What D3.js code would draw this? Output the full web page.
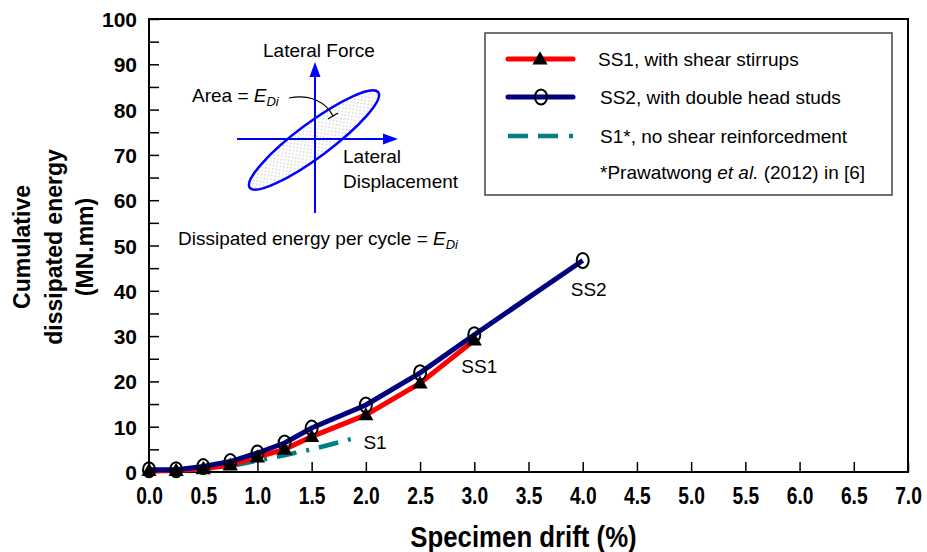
<!DOCTYPE html>
<html><head><meta charset="utf-8">
<script src="https://cdn.jsdelivr.net/npm/d3@7/dist/d3.min.js"></script>
<style>
body{margin:0;background:#fff;}
svg{display:block;}
text{font-family:"Liberation Sans",Arial,sans-serif;}
.narrow{font-family:"Liberation Sans",Arial,sans-serif;font-weight:bold;}
</style>
</head><body>
<svg id="chart" width="927" height="552"></svg>
<script>
// ---- data ----
const ss1Drift = [0.0, 0.25, 0.5, 0.75, 1.0, 1.25, 1.5, 2.0, 2.5, 3.0];
const ss1Energy = [0.3, 0.3, 0.7, 1.5, 3.3, 5.0, 7.8, 12.6, 19.6, 29.1];
const ss2Drift = [0.0, 0.25, 0.5, 0.75, 1.0, 1.25, 1.5, 2.0, 2.5, 3.0, 4.0];
const ss2Energy = [0.5, 0.5, 1.2, 2.3, 4.2, 6.4, 9.7, 14.8, 21.9, 30.3, 46.7];
const s1Drift = [0.0, 0.25, 0.5, 0.75, 1.0, 1.25, 1.5, 1.95];
const s1Energy = [0.2, 0.3, 0.6, 1.3, 2.5, 3.7, 5.0, 7.8];
const xTicks = [0,0.5,1,1.5,2,2.5,3,3.5,4,4.5,5,5.5,6,6.5,7];
const yTicks = [0,10,20,30,40,50,60,70,80,90,100];
const yMinorTicks = [0,5,10,15,20,25,30,35,40,45,50,55,60,65,70,75,80,85,90,95,100];
const legendLabels = ["SS1, with shear stirrups", "SS2, with double head studs", "S1*, no shear reinforcedment"];

const svg = d3.select("#chart");
const L = 149, R = 908, T = 19, B = 472;
const x = d3.scaleLinear().domain([0, 7]).range([L, R]);
const y = d3.scaleLinear().domain([0, 100]).range([B, T]);

// defs: dotted pattern
const defs = svg.append("defs");
const pat = defs.append("pattern").attr("id","dots").attr("patternUnits","userSpaceOnUse")
  .attr("width",5).attr("height",5);
pat.append("circle").attr("cx",1.2).attr("cy",1.2).attr("r",0.6).attr("fill","#aaa");
pat.append("circle").attr("cx",3.7).attr("cy",3.7).attr("r",0.6).attr("fill","#aaa");

// axes
const xAxis = d3.axisBottom(x).tickValues(xTicks).tickSizeInner(-10).tickSizeOuter(0).tickFormat(d3.format(".1f"));
const gx = svg.append("g").attr("transform",`translate(0,${B})`).call(xAxis);
gx.select(".domain").remove();
gx.selectAll(".tick line").attr("stroke","#000").attr("stroke-width",1.5);
gx.selectAll(".tick text").attr("class","narrow").attr("font-size",24).attr("fill","#000")
  .attr("dy",0).attr("y",32).attr("transform","scale(0.8,1)");

const yAxis = d3.axisLeft(y).tickValues(yMinorTicks).tickSizeInner(-10).tickSizeOuter(0)
  .tickFormat(d => yTicks.includes(d) ? d : "");
const gy = svg.append("g").attr("transform",`translate(${L},0)`).call(yAxis);
gy.select(".domain").remove();
gy.selectAll(".tick line").attr("stroke","#000").attr("stroke-width",1.5);
gy.selectAll(".tick text").attr("font-size",21).attr("font-weight","bold").attr("fill","#000")
  .attr("x",-12).attr("dy","0.36em").style("font-family","'Liberation Sans',Arial,sans-serif");

// frame
svg.append("rect").attr("x",L).attr("y",T).attr("width",R-L).attr("height",B-T)
  .attr("fill","none").attr("stroke","#000").attr("stroke-width",2);

// axis titles
svg.append("text").attr("class","narrow").attr("transform",`translate(${(L+R)/2 - 5},547) scale(0.86,1)`)
  .attr("text-anchor","middle").attr("font-size",30).text("Specimen drift (%)");
const yt = svg.append("text").attr("transform","translate(0,247) rotate(-90)").attr("text-anchor","middle")
  .attr("font-size",23).attr("font-weight","bold");
yt.append("tspan").attr("x",0).attr("y",30).text("Cumulative");
yt.append("tspan").attr("x",0).attr("y",62).text("dissipated energy");
yt.append("tspan").attr("x",0).attr("y",93).text("(MN.mm)");

// series lines
const line = d3.line().x(d => x(d[0])).y(d => y(d[1]));
const ss1 = ss1Drift.map((d,i)=>[d, ss1Energy[i]]);
const ss2 = ss2Drift.map((d,i)=>[d, ss2Energy[i]]);
const s1 = s1Drift.map((d,i)=>[d, s1Energy[i]]);

svg.append("path").datum(s1).attr("d",line).attr("fill","none").attr("stroke","#008080")
  .attr("stroke-width",4.5).attr("stroke-dasharray","20,10,3,10").attr("stroke-linecap","butt");
svg.append("path").datum(ss1).attr("d",line).attr("fill","none").attr("stroke","#ff0000").attr("stroke-width",5);
svg.append("path").datum(ss2).attr("d",line).attr("fill","none").attr("stroke","#000080").attr("stroke-width",5);

// markers
const tri = d3.symbol().type(d3.symbolTriangle).size(100);
svg.selectAll(".m1").data(ss1).join("path").attr("class","m1")
  .attr("transform",d=>`translate(${x(d[0])},${y(d[1])+1})`).attr("d",tri).attr("fill","#000");
svg.selectAll(".m2").data(ss2).join("ellipse").attr("class","m2")
  .attr("cx",d=>x(d[0])).attr("cy",d=>y(d[1])).attr("rx",6).attr("ry",7.5)
  .attr("fill","none").attr("stroke","#000").attr("stroke-width",2);

// end labels
svg.append("text").attr("x",x(4.0)-12).attr("y",y(46.7)+36).attr("font-size",19).text("SS2");
svg.append("text").attr("x",x(3.0)-13).attr("y",y(29.1)+33).attr("font-size",19).text("SS1");
svg.append("text").attr("x",x(1.95)+3).attr("y",y(7.8)+12).attr("font-size",19).text("S1");

// legend
const lg = svg.append("g");
lg.append("rect").attr("x",485).attr("y",33).attr("width",407).attr("height",162)
  .attr("fill","#fff").attr("stroke","#444").attr("stroke-width",1.5);
const ly = [59, 97, 136];
lg.append("line").attr("x1",508).attr("x2",573).attr("y1",ly[0]).attr("y2",ly[0]).attr("stroke","#ff0000").attr("stroke-width",5).attr("stroke-linecap","round");
lg.append("path").attr("transform",`translate(540,${ly[0]+1})`).attr("d",tri).attr("fill","#000");
lg.append("line").attr("x1",508).attr("x2",573).attr("y1",ly[1]).attr("y2",ly[1]).attr("stroke","#000080").attr("stroke-width",5).attr("stroke-linecap","round");
lg.append("ellipse").attr("cx",541).attr("cy",ly[1]).attr("rx",6).attr("ry",7.5).attr("fill","none").attr("stroke","#000").attr("stroke-width",2);
lg.append("line").attr("x1",508).attr("x2",575).attr("y1",ly[2]).attr("y2",ly[2]).attr("stroke","#008080").attr("stroke-width",4.5).attr("stroke-dasharray","20,10,20,11,4,100");
legendLabels.forEach((t,i)=>{
  lg.append("text").attr("x",598 + (i>0?2:0)).attr("y",ly[i]+7).attr("font-size",19).text(t);
});
const ref = lg.append("text").attr("x",600).attr("y",179).attr("font-size",19);
ref.append("tspan").text("*Prawatwong ");
ref.append("tspan").attr("font-style","italic").text("et al.");
ref.append("tspan").text(" (2012) in [6]");

// inset hysteresis sketch
const ins = svg.append("g");
ins.append("ellipse").attr("cx",314).attr("cy",140).attr("rx",80).attr("ry",17)
  .attr("transform","rotate(-36.6,314,140)").attr("fill","url(#dots)").attr("stroke","#0000ff").attr("stroke-width",2.5);
ins.append("line").attr("x1",315).attr("x2",315).attr("y1",213).attr("y2",75).attr("stroke","#0000ff").attr("stroke-width",2);
ins.append("path").attr("d","M315,62 L309.5,77 L320.5,77 Z").attr("fill","#0000ff");
ins.append("line").attr("x1",237).attr("x2",385).attr("y1",139).attr("y2",139).attr("stroke","#0000ff").attr("stroke-width",2);
ins.append("path").attr("d","M398,139 L383,133.5 L383,144.5 Z").attr("fill","#0000ff");
ins.append("text").attr("x",263).attr("y",57).attr("font-size",19).text("Lateral Force");
const area = ins.append("text").attr("x",192).attr("y",102).attr("font-size",19);
area.append("tspan").text("Area = ");
area.append("tspan").attr("font-style","italic").text("E");
area.append("tspan").attr("font-style","italic").attr("font-size",13).attr("dy",4).text("Di");
ins.append("path").attr("d","M289,98 C310,94 326,102 333,116").attr("fill","none").attr("stroke","#000").attr("stroke-width",1.2);
ins.append("path").attr("d","M328,119 L338,113").attr("fill","none").attr("stroke","#000").attr("stroke-width",1.2);
ins.append("text").attr("x",343).attr("y",163).attr("font-size",19).text("Lateral");
ins.append("text").attr("x",343).attr("y",188).attr("font-size",19).text("Displacement");
const de = ins.append("text").attr("x",178).attr("y",245).attr("font-size",19);
de.append("tspan").text("Dissipated energy per cycle = ");
de.append("tspan").attr("font-style","italic").text("E");
de.append("tspan").attr("font-style","italic").attr("font-size",13).attr("dy",4).text("Di");
</script>
</body></html>
